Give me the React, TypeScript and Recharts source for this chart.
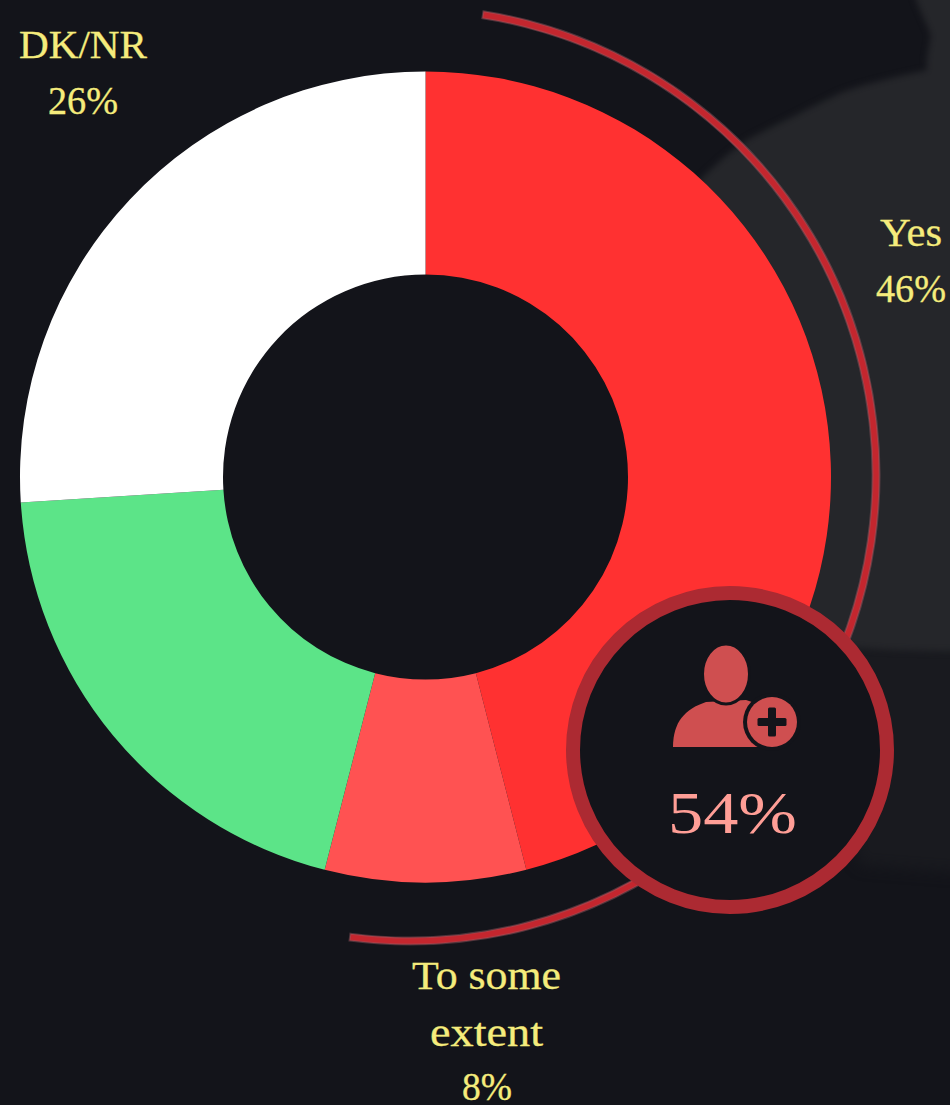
import React from "react";
import { PieChart, Pie, Cell } from "recharts";

const categories = ["Yes", "To some extent", "(unlabelled)", "DK/NR"];
const shares = [46, 8, 20, 26];
const sliceColors = ["#FF3131", "#FF5252", "#5CE488", "#FFFFFF"];
const arcShare = [54];
const sliceData = categories.map((name, i) => ({ name, value: shares[i] }));
const arcData = [{ name: "Positive", value: arcShare[0] }];

const W = 950;
const H = 1105;
const BG = "#13141A";
const YELLOW = "#F5EC7C";
const FONT = "'Liberation Serif', serif";

const labelLines = [
  { text: "DK/NR", x: 83, y: 58, width: 128 },
  { text: "26%", x: 83, y: 114, width: 70 },
  { text: "Yes", x: 911, y: 246, width: 62 },
  { text: "46%", x: 911, y: 302, width: 70 },
  { text: "To some", x: 486.5, y: 989, width: 149 },
  { text: "extent", x: 486.5, y: 1046, width: 113 },
  { text: "8%", x: 487, y: 1100, width: 50 },
];

function Backdrop() {
  return (
    <svg width={W} height={H} style={{ position: "absolute", left: 0, top: 0 }}>
      <defs>
        <filter id="soft" x="-10%" y="-10%" width="120%" height="120%" colorInterpolationFilters="sRGB">
          <feGaussianBlur stdDeviation="3" />
        </filter>
        <filter id="soft2" x="-10%" y="-10%" width="120%" height="120%" colorInterpolationFilters="sRGB">
          <feGaussianBlur stdDeviation="7" />
        </filter>
      </defs>
      <rect width={W} height={H} fill={BG} />
      <path d="M 990 875 L 860 865 L 800 640 L 990 620 Z" fill="#191A1F" filter="url(#soft2)" />
      <path
        d="M 990 652 C 920 650 860 652 800 640 L 640 240 L 703 177 C 720 160 735 148 750 138 C 790 118 815 105 840 93 C 870 82 900 76 927 70 C 925 55 932 40 930 33 C 925 20 918 8 913 -10 L 990 -10 Z"
        fill="#25262A"
        filter="url(#soft)"
      />
    </svg>
  );
}

function Overlay() {
  return (
    <svg width={W} height={H} style={{ position: "absolute", left: 0, top: 0 }}>
      <g fontFamily={FONT} fontSize={39} fill={YELLOW} textAnchor="middle" stroke={YELLOW} strokeWidth={0.3}>
        {labelLines.map((l) => (
          <text key={l.text + l.y} x={l.x} y={l.y} textLength={l.width} lengthAdjust="spacingAndGlyphs">
            {l.text}
          </text>
        ))}
      </g>
      <circle cx={730} cy={750} r={157} fill={BG} stroke="#AC2A32" strokeWidth={14} />
      <g fill="#CF4F50">
        <path d="M 673 747 C 673 722 685 709 706 702 L 746 700 L 758 704 L 758 747 Z" />
        <ellipse cx={726} cy={674} rx={23.5} ry={30} stroke={BG} strokeWidth={3} />
        <circle cx={772} cy={722} r={29} fill={BG} />
        <circle cx={772} cy={722} r={25} />
      </g>
      <rect x={757.5} y={718} width={29} height={8} rx={1.5} fill={BG} />
      <rect x={768} y={707.5} width={8} height={29} rx={1.5} fill={BG} />
      <text
        x={732.5}
        y={833}
        fontFamily={FONT}
        fontSize={60}
        fill="#FF9E96"
        textAnchor="middle"
        textLength={129}
        lengthAdjust="spacingAndGlyphs"
      >
        54%
      </text>
    </svg>
  );
}

export default function App() {
  return (
    <div style={{ position: "absolute", left: 0, top: 0, width: W, height: H, overflow: "hidden", background: BG }}>
      <Backdrop />
      <div style={{ position: "absolute", left: 0, top: 0 }}>
        <PieChart width={W} height={H} margin={{ top: 0, right: 0, bottom: 0, left: 0 }}>
          <Pie
            data={sliceData}
            dataKey="value"
            nameKey="name"
            cx={425.5}
            cy={477}
            innerRadius={202.5}
            outerRadius={405.5}
            startAngle={90}
            endAngle={-270}
            stroke="none"
            isAnimationActive={false}
            label={false}
            labelLine={false}
          >
            {sliceData.map((d, i) => (
              <Cell key={d.name} fill={sliceColors[i]} />
            ))}
          </Pie>
          <Pie
            data={arcData}
            dataKey="value"
            nameKey="name"
            cx={410}
            cy={475}
            innerRadius={462.5}
            outerRadius={469.5}
            startAngle={81}
            endAngle={-97.4}
            fill="#C4262E"
            stroke="rgba(150,90,100,0.45)"
            strokeWidth={2}
            isAnimationActive={false}
            label={false}
            labelLine={false}
          />
        </PieChart>
      </div>
      <Overlay />
    </div>
  );
}
